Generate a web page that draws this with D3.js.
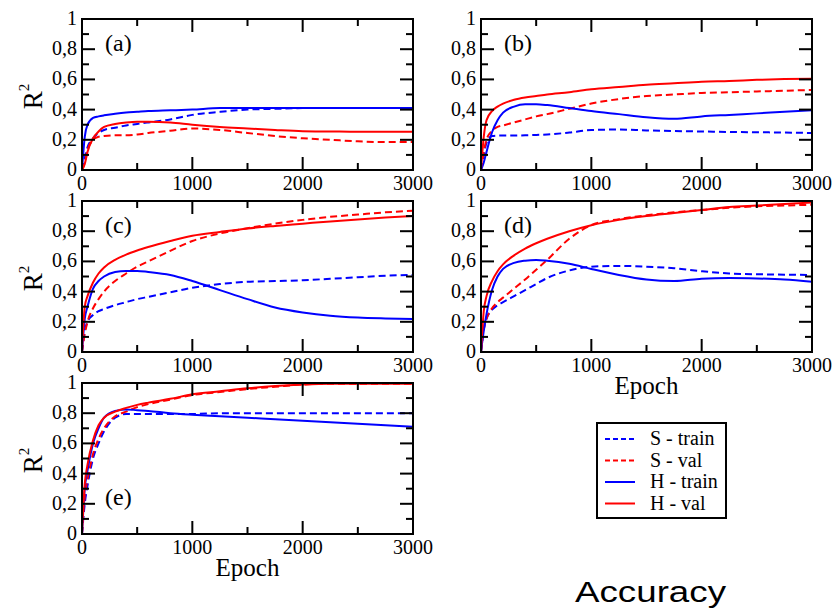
<!DOCTYPE html>
<html>
<head>
<meta charset="utf-8">
<script src="https://cdn.jsdelivr.net/npm/d3@7"></script>
<style>
  body { margin: 0; background: #fff; }
  svg { display: block; }
  text { font-family: "Liberation Serif", "DejaVu Serif", serif; fill: #000; }
</style>
</head>
<body>
<div id="chart"></div>
<script>
// epochs shared by every series
const epochs = [0, 25, 50, 100, 150, 200, 300, 400, 500, 600, 800, 1000, 1250, 1500, 1750, 2000, 2250, 2500, 2750, 3000];

// panel (a)
const aSTrain = [0, 0.08, 0.15, 0.21, 0.245, 0.265, 0.28, 0.295, 0.305, 0.315, 0.335, 0.365, 0.385, 0.40, 0.405, 0.41, 0.41, 0.41, 0.41, 0.41];
const aSVal   = [0, 0.05, 0.13, 0.20, 0.22, 0.225, 0.23, 0.23, 0.235, 0.245, 0.26, 0.275, 0.265, 0.245, 0.225, 0.21, 0.20, 0.19, 0.185, 0.185];
const aHTrain = [0, 0.22, 0.30, 0.345, 0.355, 0.362, 0.372, 0.38, 0.385, 0.39, 0.395, 0.40, 0.41, 0.41, 0.41, 0.41, 0.41, 0.41, 0.41, 0.41];
const aHVal   = [0, 0.04, 0.12, 0.21, 0.255, 0.285, 0.305, 0.315, 0.32, 0.32, 0.315, 0.30, 0.285, 0.275, 0.265, 0.257, 0.255, 0.253, 0.253, 0.253];

// panel (b)
const bSTrain = [0, 0.10, 0.18, 0.225, 0.228, 0.228, 0.228, 0.23, 0.232, 0.235, 0.248, 0.265, 0.268, 0.262, 0.258, 0.255, 0.252, 0.25, 0.248, 0.245];
const bSVal   = [0, 0.12, 0.20, 0.26, 0.285, 0.295, 0.315, 0.335, 0.355, 0.37, 0.405, 0.44, 0.47, 0.49, 0.50, 0.51, 0.515, 0.52, 0.525, 0.53];
const bHTrain = [0, 0.05, 0.12, 0.25, 0.33, 0.38, 0.42, 0.435, 0.435, 0.43, 0.41, 0.39, 0.37, 0.35, 0.34, 0.355, 0.365, 0.375, 0.385, 0.395];
const bHVal   = [0, 0.22, 0.33, 0.39, 0.42, 0.44, 0.465, 0.48, 0.49, 0.50, 0.515, 0.535, 0.55, 0.565, 0.575, 0.585, 0.59, 0.597, 0.602, 0.605];

// panel (c)
const cSTrain = [0, 0.14, 0.20, 0.245, 0.27, 0.285, 0.31, 0.33, 0.35, 0.365, 0.395, 0.425, 0.45, 0.465, 0.47, 0.475, 0.485, 0.495, 0.505, 0.51];
const cSVal   = [0, 0.12, 0.20, 0.29, 0.35, 0.40, 0.47, 0.52, 0.565, 0.60, 0.67, 0.735, 0.785, 0.82, 0.85, 0.875, 0.895, 0.91, 0.925, 0.935];
const cHTrain = [0, 0.22, 0.30, 0.42, 0.47, 0.50, 0.53, 0.537, 0.537, 0.53, 0.51, 0.47, 0.41, 0.35, 0.295, 0.262, 0.24, 0.228, 0.222, 0.218];
const cHVal   = [0, 0.30, 0.37, 0.46, 0.52, 0.56, 0.61, 0.645, 0.672, 0.695, 0.735, 0.77, 0.795, 0.818, 0.835, 0.85, 0.865, 0.878, 0.89, 0.90];

// panel (d)
const dSTrain = [0, 0.15, 0.22, 0.28, 0.31, 0.33, 0.37, 0.41, 0.45, 0.49, 0.54, 0.565, 0.57, 0.565, 0.555, 0.535, 0.52, 0.515, 0.512, 0.51];
const dSVal   = [0, 0.15, 0.22, 0.29, 0.33, 0.36, 0.42, 0.48, 0.545, 0.61, 0.75, 0.84, 0.88, 0.905, 0.925, 0.94, 0.955, 0.965, 0.97, 0.975];
const dHTrain = [0, 0.14, 0.25, 0.41, 0.50, 0.55, 0.59, 0.605, 0.61, 0.605, 0.585, 0.55, 0.51, 0.48, 0.47, 0.485, 0.49, 0.487, 0.48, 0.465];
const dHVal   = [0, 0.27, 0.37, 0.47, 0.535, 0.58, 0.64, 0.685, 0.72, 0.75, 0.80, 0.84, 0.875, 0.90, 0.92, 0.94, 0.96, 0.97, 0.98, 0.99];

// panel (e)
const eSTrain = [0, 0.20, 0.32, 0.50, 0.60, 0.68, 0.77, 0.795, 0.795, 0.795, 0.795, 0.795, 0.80, 0.80, 0.80, 0.80, 0.80, 0.80, 0.80, 0.80];
const eSVal   = [0, 0.25, 0.36, 0.53, 0.63, 0.70, 0.78, 0.81, 0.84, 0.86, 0.89, 0.92, 0.94, 0.96, 0.975, 0.99, 0.995, 0.995, 0.995, 0.995];
const eHTrain = [0, 0.30, 0.42, 0.60, 0.70, 0.77, 0.815, 0.825, 0.82, 0.815, 0.80, 0.79, 0.78, 0.77, 0.76, 0.75, 0.74, 0.73, 0.72, 0.71];
const eHVal   = [0, 0.33, 0.46, 0.62, 0.72, 0.77, 0.81, 0.835, 0.855, 0.87, 0.895, 0.925, 0.945, 0.965, 0.98, 0.99, 0.995, 0.995, 0.995, 0.995];

const seriesNames = ["S - train", "S - val", "H - train", "H - val"];
const xTicks = [0, 1000, 2000, 3000];
const yTicks = [0, 0.2, 0.4, 0.6, 0.8, 1];

const panels = [
    { label: "(a)", series: [aSTrain, aSVal, aHTrain, aHVal], x: 82, y: 19, ylab: true, xlab: false, labPos: "top" },
    { label: "(b)", series: [bSTrain, bSVal, bHTrain, bHVal], x: 481, y: 19, ylab: false, xlab: false, labPos: "top" },
    { label: "(c)", series: [cSTrain, cSVal, cHTrain, cHVal], x: 82, y: 201, ylab: true, xlab: false, labPos: "top" },
    { label: "(d)", series: [dSTrain, dSVal, dHTrain, dHVal], x: 481, y: 201, ylab: false, xlab: true, labPos: "top" },
    { label: "(e)", series: [eSTrain, eSVal, eHTrain, eHVal], x: 82, y: 383, ylab: true, xlab: true, labPos: "bottom" }
];

const width = 836, height = 615;
const pw = 331, ph = 151;
const colors = ["#0000ff", "#ff0000", "#0000ff", "#ff0000"];
const dashes = ["7,4", "7,4", null, null];

const svg = d3.select("#chart").append("svg")
    .attr("width", width)
    .attr("height", height);

const x = d3.scaleLinear().domain([0, 3000]).range([0, pw]);
const y = d3.scaleLinear().domain([0, 1]).range([ph, 0]);
const fmtY = v => d3.format("~g")(v).replace(".", ",");

svg.append("defs").append("clipPath").attr("id", "clip")
    .append("rect").attr("width", pw).attr("height", ph);

const line = d3.line()
    .x((d, i) => x(epochs[i]))
    .y(d => y(d))
    .curve(d3.curveMonotoneX);

panels.forEach(p => {
    const g = svg.append("g").attr("transform", `translate(${p.x},${p.y})`);

    // curves
    const plot = g.append("g").attr("clip-path", "url(#clip)");
    p.series.forEach((s, i) => {
        plot.append("path")
            .attr("d", line(s))
            .attr("fill", "none")
            .attr("stroke", colors[i])
            .attr("stroke-width", 2)
            .attr("stroke-dasharray", dashes[i]);
    });

    // ticks inward on all four sides
    const tickLen = 13, minorLen = 7;
    const ax = g.append("g").attr("stroke", "#000").attr("stroke-width", 2);
    d3.range(0, 3001, 500).forEach(v => {
        const len = v % 1000 === 0 ? tickLen : minorLen;
        ax.append("line").attr("x1", x(v)).attr("x2", x(v)).attr("y1", ph).attr("y2", ph - len);
        ax.append("line").attr("x1", x(v)).attr("x2", x(v)).attr("y1", 0).attr("y2", len);
    });
    d3.range(0, 11).forEach(k => {
        const v = k / 10;
        const len = k % 2 === 0 ? tickLen : minorLen;
        ax.append("line").attr("x1", 0).attr("x2", len).attr("y1", y(v)).attr("y2", y(v));
        ax.append("line").attr("x1", pw).attr("x2", pw - len).attr("y1", y(v)).attr("y2", y(v));
    });
    g.append("rect")
        .attr("width", pw).attr("height", ph)
        .attr("fill", "none").attr("stroke", "#000").attr("stroke-width", 2);

    // tick labels
    g.selectAll(".xt").data(xTicks).enter().append("text")
        .attr("x", d => x(d)).attr("y", ph + 20)
        .attr("text-anchor", "middle")
        .attr("font-size", 20)
        .text(d => d);
    g.selectAll(".yt").data(yTicks).enter().append("text")
        .attr("x", -5).attr("y", d => y(d) + 6)
        .attr("text-anchor", "end")
        .attr("font-size", 20)
        .text(fmtY);

    // panel label
    g.append("text")
        .attr("x", 23)
        .attr("y", p.labPos === "top" ? 32 : 122)
        .attr("font-size", 24)
        .text(p.label);

    if (p.ylab) {
        const t = g.append("text")
            .attr("transform", `translate(-40,${ph / 2 + 2}) rotate(-90)`)
            .attr("text-anchor", "middle")
            .attr("font-size", 27);
        t.append("tspan").text("R");
        t.append("tspan").attr("font-size", 15).attr("dy", -13).text("2");
    }
    if (p.xlab) {
        g.append("text")
            .attr("x", pw / 2).attr("y", ph + 42)
            .attr("text-anchor", "middle")
            .attr("font-size", 25)
            .text("Epoch");
    }
});

// legend
const lg = svg.append("g").attr("transform", "translate(597,423)");
lg.append("rect").attr("width", 129).attr("height", 95)
    .attr("fill", "#fff").attr("stroke", "#000").attr("stroke-width", 2);
seriesNames.forEach((name, i) => {
    const cy = 16 + i * 21.5;
    lg.append("line")
        .attr("x1", 8).attr("x2", 38).attr("y1", cy).attr("y2", cy)
        .attr("stroke", colors[i]).attr("stroke-width", 2)
        .attr("stroke-dasharray", dashes[i] ? "5,3" : null);
    lg.append("text")
        .attr("x", 53).attr("y", cy + 6)
        .attr("font-size", 20)
        .text(name);
});

svg.append("text")
    .attr("x", 575).attr("y", 602)
    .attr("font-size", 29)
    .attr("textLength", 151)
    .attr("lengthAdjust", "spacingAndGlyphs")
    .style("font-family", "'Liberation Sans', Arial, sans-serif")
    .text("Accuracy");
</script>
</body>
</html>
